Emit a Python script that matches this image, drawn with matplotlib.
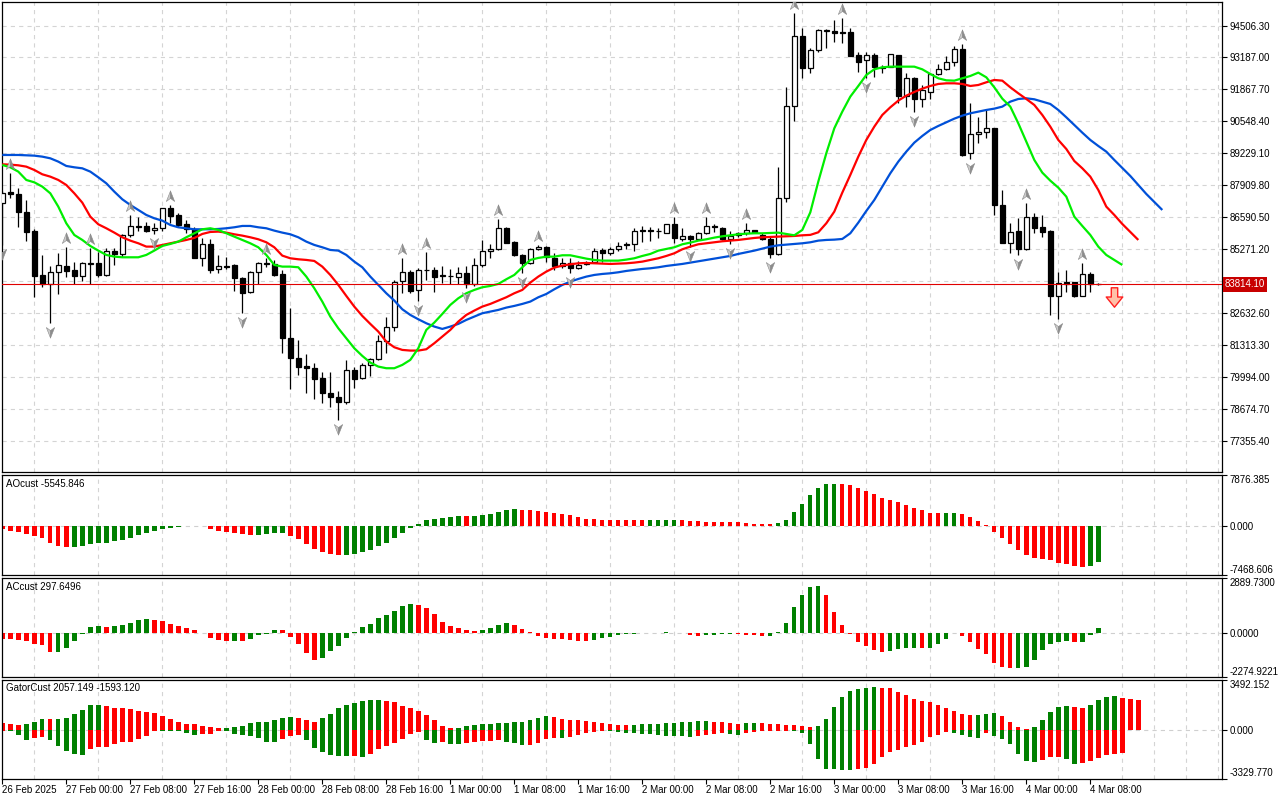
import matplotlib
matplotlib.use("Agg")
import matplotlib.pyplot as plt
import numpy as np
from matplotlib.path import Path
from matplotlib import transforms

plt.rcParams['font.family'] = ['Liberation Sans', 'DejaVu Sans']
plt.rcParams['font.size'] = 7
plt.rcParams['lines.scale_dashes'] = False

# ---------------- data ----------------
time_labels = ["26 Feb 2025", "27 Feb 00:00", "27 Feb 08:00", "27 Feb 16:00", "28 Feb 00:00",
               "28 Feb 08:00", "28 Feb 16:00", "1 Mar 00:00", "1 Mar 08:00", "1 Mar 16:00",
               "2 Mar 00:00", "2 Mar 08:00", "2 Mar 16:00", "3 Mar 00:00", "3 Mar 08:00",
               "3 Mar 16:00", "4 Mar 00:00", "4 Mar 08:00"]

opens = [87178, 87619, 87550, 86793, 86036, 84206, 83821, 84344, 84578, 84413,
         84179, 84674, 84702, 84206, 85183, 85073, 85857, 86215, 86229, 86050,
         86133, 86958, 86683, 86312, 86091, 84922, 85472, 84440, 84591, 84619,
         84096, 83491, 84344, 84688, 84660, 84247, 81592, 80766, 80450, 80354,
         79941, 79321, 79156, 78950, 80285, 79941, 80491, 80725, 81468, 82046,
         83945, 84316, 83587, 84399, 84413, 84193, 84179, 84110, 84275, 83821,
         84605, 85197, 85266, 86133, 85555, 85032, 84688, 85280, 85348, 84894,
         84591, 84687, 84481, 84646, 84756, 85238, 85100, 85265, 85499, 85472,
         86064, 86050, 86036, 85953, 86298, 85706, 85816, 85678, 85926, 86215,
         86160, 85678, 85857, 85926, 86064, 85843, 85692, 85059, 87371, 91183,
         94074, 92766, 93496, 94280, 94266, 94225, 94225, 93289, 93083, 93289,
         92739, 92807, 93289, 91610, 92326, 91459, 91775, 92505, 92697, 93014,
         93523, 89257, 90027, 90096, 90261, 87096, 85541, 86022, 85279, 86587,
         86174, 86022, 83352, 83903, 83903, 83352, 84233, 83820]
highs = [87660, 88400, 87784, 87302, 86100, 85032, 84578, 85101, 85376, 84757,
         84757, 85307, 85170, 85307, 85307, 85899, 86683, 86587, 86408, 86339,
         86985, 87082, 86752, 86477, 86174, 85747, 85692, 85032, 84963, 84650,
         84137, 84372, 84757, 84894, 84826, 84413, 82830, 81523, 80945, 80588,
         80216, 80216, 79432, 80698, 80422, 80588, 80766, 81730, 82486, 84000,
         84894, 84413, 84481, 85170, 84550, 84578, 84440, 84522, 84578, 84894,
         85651, 85486, 86504, 86202, 85610, 85073, 85307, 85445, 85403, 85100,
         84921, 84921, 84784, 84797, 85307, 85334, 85348, 85554, 85554, 86132,
         86229, 86201, 86160, 86325, 86614, 86160, 85857, 85967, 86614, 86298,
         86201, 86036, 85995, 86366, 86080, 85926, 85788, 88679, 91954, 95010,
         94390, 93564, 94376, 94376, 94734, 94803, 94390, 93427, 93427, 93358,
         92876, 93340, 93300, 92532, 92367, 92050, 92532, 92904, 93248, 93661,
         93740, 91293, 90716, 91018, 90290, 87715, 86366, 86545, 87165, 86752,
         86683, 86064, 84343, 84412, 83930, 84687, 84343, 83861]
lows = [85450, 87371, 86201, 85623, 83312, 83697, 82211, 83408, 84137, 83835,
        83972, 83835, 84137, 84180, 84619, 84963, 85789, 86036, 85995, 85899,
        86036, 86339, 86174, 85926, 84900, 84578, 84303, 84303, 84440, 83560,
        82651, 83470, 83835, 84523, 84180, 80973, 79487, 80078, 79321, 79074,
        78909, 78771, 78221, 78868, 79528, 79900, 80037, 80698, 80999, 81908,
        83449, 83449, 83147, 84000, 83518, 83862, 83835, 83821, 83656, 83752,
        84550, 84894, 85238, 85514, 84991, 84275, 84660, 85238, 84757, 84412,
        84508, 84274, 84440, 84605, 84687, 84756, 85031, 85210, 85265, 85210,
        85582, 85610, 85747, 85926, 85540, 85623, 85375, 85650, 85885, 85995,
        85651, 85486, 85788, 85857, 85926, 85640, 84894, 85031, 87233, 90578,
        92326, 92560, 93427, 93564, 93840, 93798, 93250, 92601, 92326, 92394,
        92532, 92790, 91293, 91156, 90950, 91156, 91459, 92463, 92670, 92835,
        89119, 88981, 89642, 89848, 86683, 85513, 85128, 85031, 85250, 85926,
        85788, 82554, 82375, 83517, 83311, 83320, 83517, 83793]
closes = [87591, 87536, 86793, 85995, 84179, 83821, 84344, 84605, 84385, 84179,
          84688, 84702, 84206, 85197, 85073, 85857, 86215, 86190, 86036, 86146,
          86958, 86656, 86270, 86091, 84922, 85472, 84413, 84564, 84550, 84069,
          83477, 84344, 84688, 84660, 84206, 81619, 80766, 80395, 80354, 79913,
          79321, 79156, 78950, 80285, 79913, 80491, 80725, 81468, 82046, 83931,
          84316, 83560, 84413, 84413, 84137, 84165, 84151, 84275, 83821, 84605,
          85197, 85266, 86133, 85541, 85032, 84688, 85266, 85348, 84930, 84591,
          84687, 84481, 84618, 84715, 85210, 85128, 85265, 85417, 85458, 86022,
          86036, 86022, 86008, 86298, 85720, 85816, 85706, 85926, 86229, 86187,
          85678, 85816, 85926, 86064, 85967, 85678, 85059, 87371, 91183, 94074,
          92739, 93496, 94321, 94321, 94184, 94184, 93262, 93014, 93289, 92807,
          92807, 93317, 91610, 92326, 91459, 91844, 92505, 92697, 93014, 93523,
          89160, 90013, 90096, 90261, 87096, 85541, 85995, 85279, 86587, 86160,
          85995, 83352, 83861, 83834, 83352, 84233, 83820, 83814.1]

jaw = [89160, 89160, 89160, 89146, 89132, 89091, 89022, 88885, 88706, 88651,
       88609, 88472, 88238, 87990, 87646, 87330, 87096, 86889, 86683, 86545,
       86449, 86270, 86174, 86133, 86091, 86091, 86091, 86105, 86133, 86174,
       86229, 86229, 86174, 86133, 86036,
       85954, 85885, 85761, 85582, 85445, 85348, 85238, 85211, 85032, 84757,
       84523, 84138, 83794, 83450, 83147, 82789, 82555, 82376, 82211, 82074,
       81977, 82074, 82184, 82349, 82486, 82624, 82693, 82762, 82858, 82927,
       83009, 83106, 83284, 83420,
       83614, 83793, 83930, 84040, 84137, 84206, 84247, 84274, 84316, 84371,
       84412, 84453, 84481, 84522, 84577, 84618, 84660, 84715, 84770, 84825,
       84880, 84935, 84990, 85073, 85141, 85210, 85293, 85375, 85430, 85458,
       85485, 85513, 85554, 85623,
       85651, 85664, 85692, 85926, 86366, 86848, 87302, 87853, 88403, 88885,
       89298, 89669, 89945, 90192, 90358, 90509, 90660, 90784, 90881, 90949,
       91018, 91073, 91156, 91362, 91472, 91500, 91459, 91362, 91266, 91018,
       90715, 90399, 90082, 89780, 89532, 89298, 88954, 88623, 88293, 87921,
       87550, 87220, 86889]
teeth = [88775, 88761, 88733, 88678, 88541, 88362, 88265, 88128, 87921, 87577,
         87192, 86614, 86298, 86133, 85954, 85761, 85623, 85513, 85376, 85376,
         85445, 85513, 85582, 85651, 85734, 85899, 85981, 85995, 85954, 85885,
         85830, 85761, 85679, 85555, 85348,
         85004, 84894, 84853, 84826, 84784, 84550, 84206, 83794, 83340, 82899,
         82514, 82184, 81867, 81454, 81220, 81110, 81083, 81083, 81138, 81386,
         81661, 81936, 82280, 82555, 82734, 82899, 83009, 83147, 83284, 83450,
         83587, 83890, 84138, 84344,
         84508, 84591, 84646, 84687, 84701, 84687, 84673, 84660, 84673, 84687,
         84715, 84756, 84825, 84894, 84990, 85100, 85265, 85375, 85472, 85513,
         85554, 85596, 85623, 85651, 85692, 85733, 85761, 85774, 85788, 85802,
         85816, 85843, 85860, 85967,
         86339, 86820, 87605, 88334, 89091, 89780, 90330, 90812, 91128, 91404,
         91610, 91761, 91899, 92009, 92092, 92119, 92119, 92092, 92009, 92050,
         92161, 92257, 92229, 91954, 91706, 91472, 91225, 90812, 90330, 89780,
         89408, 88912, 88610, 88266, 87715, 87027, 86683, 86311, 85981, 85651]
lips = [88747, 88651, 88472, 88128, 88031, 87853, 87577, 87027, 86339, 85857,
        85651, 85403, 85211, 85032, 84963, 84935, 84935, 84935, 85032, 85211,
        85403, 85486, 85582, 85761, 85926, 86091, 86133, 86064, 85926, 85789,
        85651, 85513, 85348, 85032, 84619,
        84550, 84550, 84523, 84138, 83656, 83106, 82486, 82005, 81592, 81179,
        80863, 80588, 80422, 80354, 80354, 80491, 80698, 81179, 81936, 82239,
        82596, 82968, 83243, 83450, 83587, 83697, 83752, 83835, 84028, 84206,
        84523, 84826, 84908, 84960,
        84962, 85018, 85018, 84949, 84880, 84825, 84797, 84797, 84797, 84839,
        84894, 84990, 85073, 85210, 85279, 85348, 85472, 85541, 85623, 85678,
        85747, 85802, 85843, 85885, 85912, 85926, 85926, 85940, 85953, 85898,
        85843, 86064, 86790, 88060,
        89229, 90261, 90949, 91569, 92009, 92463, 92697, 92780, 92807, 92807,
        92807, 92807, 92697, 92505, 92326, 92243, 92229, 92326, 92422, 92560,
        92367, 91954, 91486, 91156, 90468, 89711, 88954, 88431, 88100, 87811,
        87440, 86614, 86229, 85857, 85375, 85031, 84825, 84618]

fractal_up = [1, 8, 11, 16, 21, 33, 50, 53, 62, 67, 84, 88, 93, 99, 105, 120, 128, 135]
fractal_down = [0, 6, 19, 30, 42, 52, 58, 65, 71, 86, 91, 96, 108, 114, 121, 127, 132]

last_price = 83814.10
sell_signal_bar = 139
sell_signal_price = 83300

price_levels = [94506.30, 93187.00, 91867.70, 90548.40, 89229.10, 87909.80, 86590.50,
                85271.20, 83951.90, 82632.60, 81313.30, 79994.00, 78674.70, 77355.40]

ao = [-411, -771, -925, -1182, -1542, -1799, -2570, -2981, -3238, -3187,
      -3084, -2776, -2621, -2570, -2313, -2107, -1799, -1336, -1079, -771,
      -411, -257, -103, 51, 103, 51, -411, -771, -925, -1079,
      -1234, -1388, -1336, -1182, -1079, -1060, -1542, -1953, -2724, -3495,
      -4009, -4266, -4420, -4395, -4266, -4009, -3649, -3084, -2621, -1799,
      -1079, -257, 360, 977, 1079, 1234, 1388, 1542, 1516, 1542,
      1696, 1850, 2159, 2467, 2621, 2467, 2442, 2313, 2159, 2005,
      1850, 1696, 1388, 1079, 1070, 925, 920, 915, 910, 905,
      900, 905, 910, 915, 920, 900, 771, 761, 617, 612,
      607, 602, 596, 463, 308, 303, 298, 463, 925, 2159,
      3392, 4780, 5860, 6476, 6528, 6476, 6322, 5860, 5397, 4934,
      4318, 4009, 3701, 3238, 2776, 2467, 2005, 1990, 2000, 2010,
      1850, 1388, 771, 154, -925, -1850, -2776, -3701, -4472, -4934,
      -5089, -5243, -5551, -5705, -6014, -6168, -6014, -5545.846]
ac = [-281, -290, -334, -387, -562, -597, -984, -966, -756, -404,
      -18, 334, 387, 334, 387, 439, 545, 703, 756, 720,
      650, 492, 369, 281, 176, 35, -228, -334, -387, -378,
      -387, -281, -105, -35, 176, 158, -176, -562, -1037, -1388,
      -1283, -914, -633, -228, 53, 334, 492, 808, 966, 1177,
      1441, 1546, 1493, 1335, 1019, 597, 387, 281, 176, 123,
      176, 281, 439, 545, 439, 228, 70, -123, -246, -281,
      -290, -334, -404, -413, -334, -228, -176, -70, -35, -18,
      5, 18, 26, 53, 44, 9, -70, -123, -105, -70,
      -53, -18, -35, -70, -105, -123, -119, 53, 545, 1388,
      2021, 2442, 2495, 2021, 1124, 439, -35, -457, -668, -879,
      -984, -931, -826, -773, -764, -773, -770, -562, -299, 35,
      -123, -457, -826, -1089, -1564, -1775, -1827, -1824, -1775, -1406,
      -879, -562, -457, -404, -457, -453, -88, 297.6496]
gator_up = [464, 418, 325, 418, 580, 766, 760, 777, 858, 1114,
            1415, 1740, 1752, 1694, 1554, 1543, 1462, 1346, 1276, 1206,
            998, 766, 580, 418, 406, 302, 232, 162, 174, 232,
            302, 464, 534, 580, 696, 858, 928, 858, 696, 580,
            812, 1137, 1554, 1763, 1902, 2042, 2053, 2111, 2042, 1972,
            1694, 1554, 1346, 1067, 719, 302, 116, 162, 302, 371,
            441, 452, 510, 522, 534, 580, 719, 858, 998, 928,
            789, 719, 708, 650, 580, 510, 441, 371, 360, 371,
            441, 448, 455, 510, 517, 580, 587, 650, 657, 580,
            573, 510, 441, 510, 517, 510, 441, 394, 371, 348,
            302, 209, 302, 789, 1624, 2320, 2668, 2807, 2877, 2946,
            2935, 2877, 2598, 2390, 2181, 2042, 1972, 1763, 1554, 1346,
            1137, 1067, 1074, 1137, 1206, 998, 580, 232, 93, 232,
            719, 1276, 1624, 1694, 1624, 1554, 1763, 2111, 2320, 2327,
            2250, 2181, 2057.149]
gator_down = [-60, -70, -348, -696, -534, -464, -696, -1090, -1462, -1647,
              -1694, -1276, -1160, -1155, -928, -812, -800, -580, -394, -70,
              -75, -80, -85, -162, -302, -290, -232, -46, -70, -232,
              -348, -394, -534, -789, -812, -580, -394, -302, -650, -1230,
              -1508, -1694, -1763, -1786, -1775, -1856, -1647, -1299, -1090, -882,
              -603, -255, -139, -673, -858, -812, -951, -963, -882, -812,
              -742, -731, -673, -812, -858, -1021, -1009, -882, -603, -534,
              -538, -464, -325, -186, -116, -70, -74, -116, -186, -190,
              -255, -260, -325, -394, -399, -404, -464, -394, -325, -255,
              -186, -255, -325, -186, -116, -70, -65, -46, -23, -35,
              -162, -928, -2018, -2668, -2675, -2714, -2738, -2668, -2598, -2320,
              -1856, -1508, -1369, -1160, -1021, -812, -464, -325, -116, -186,
              -325, -464, -534, -162, -394, -603, -951, -1647, -2111, -2204,
              -2065, -1856, -1844, -1995, -2343, -2274, -2134, -1926, -1717, -1647,
              -1593.120]

ao_range = (-7468.606, 7876.385)
ac_range = (-2274.9221, 2889.7300)
gator_range = (-3329.770, 3492.152)

# ---------------- figure ----------------
W, H = 1280, 800
fig = plt.figure(figsize=(W / 100, H / 100), dpi=100)
fig.patch.set_facecolor('white')


def add_panel(top, bottom):
    return fig.add_axes([2 / W, 1 - bottom / H, 1220 / W, (bottom - top) / H])


ax = add_panel(2, 472)
ax_ao = add_panel(475, 575)
ax_ac = add_panel(578, 677)
ax_g = add_panel(679.5, 778.5)
axes = [ax, ax_ao, ax_ac, ax_g]

GRID = '#D4D4D4'
GREEN = '#008000'
RED = '#FF0000'
FS = 7
XLIM = (-0.0375, 152.4625)
major_x = np.arange(0, 8 * len(time_labels), 8)
minor_x = np.arange(4, 153, 4)

for a in axes:
    a.set_xlim(*XLIM)
    for s in a.spines.values():
        s.set_linewidth(0.9)
        s.set_color('black')
    a.set_xticks(major_x)
    a.set_xticks(minor_x, minor=True)
    a.grid(which='minor', axis='x', color=GRID, linestyle=(0, (3, 3)), linewidth=0.8)
    a.tick_params(axis='x', which='minor', length=0)
    a.yaxis.tick_right()
    a.tick_params(axis='y', which='major', length=3.5, width=0.8, pad=2,
                  labelsize=FS, direction='out', right=True, left=False)
    a.set_axisbelow(True)
    if a is not ax_g:
        a.tick_params(axis='x', which='major', bottom=False, labelbottom=False)

# ---------------- main price panel ----------------
n = min(len(opens), len(highs), len(lows), len(closes))
o = np.array(opens[:n], float)
h = np.array(highs[:n], float)
l = np.array(lows[:n], float)
c = np.array(closes[:n], float)
xb = np.arange(n)


def y_at(py):
    return 94506.3 + (25.5 - py) * 41.293


ax.set_ylim(y_at(472), y_at(2))
ax.set_yticks(price_levels)
# the level hidden behind the current-price box gets no visible text
ax.set_yticklabels(["" if abs(v - last_price) < 400 else f"{v:.2f}" for v in price_levels])
ax.grid(which='major', axis='y', color=GRID, linestyle=(0, (3, 3)), linewidth=0.8)

ax.vlines(xb, l, h, color='black', linewidth=0.9, zorder=2)
body_lo = np.minimum(o, c)
body_h = np.maximum(np.abs(c - o), 1.0)
ax.bar(xb, body_h, bottom=body_lo, width=0.62,
       color=np.where(c >= o, 'white', 'black'), edgecolor='black',
       linewidth=0.9, zorder=3)

ax.plot(np.arange(len(jaw)), jaw, color='#0050D8', linewidth=1.6, zorder=4,
        solid_capstyle='butt')
ax.plot(np.arange(len(teeth)), teeth, color='#FF0000', linewidth=1.6, zorder=4,
        solid_capstyle='butt')
ax.plot(np.arange(len(lips)), lips, color='#00EE00', linewidth=1.6, zorder=4,
        solid_capstyle='butt')

ax.axhline(last_price, color='#E00000', linewidth=0.8, zorder=5)

# fractal arrows
left_up = Path([(0, 1), (0, -0.35), (-0.75, -0.9), (0, 1)],
               [Path.MOVETO, Path.LINETO, Path.LINETO, Path.CLOSEPOLY])
right_up = Path([(0, 1), (0.75, -0.9), (0, -0.35), (0, 1)],
                [Path.MOVETO, Path.LINETO, Path.LINETO, Path.CLOSEPOLY])
left_dn = Path([(0, -1), (0, 0.35), (-0.75, 0.9), (0, -1)],
               [Path.MOVETO, Path.LINETO, Path.LINETO, Path.CLOSEPOLY])
right_dn = Path([(0, -1), (0.75, 0.9), (0, 0.35), (0, -1)],
                [Path.MOVETO, Path.LINETO, Path.LINETO, Path.CLOSEPOLY])
t_up = transforms.offset_copy(ax.transData, fig=fig, x=0, y=9, units='dots')
t_dn = transforms.offset_copy(ax.transData, fig=fig, x=0, y=-9, units='dots')
fu = [i for i in fractal_up if i < n]
fd = [i for i in fractal_down if i < n]
for mk, col in ((left_up, '#CBCBCB'), (right_up, '#8C8C8C')):
    ax.plot(fu, h[fu], linestyle='none', marker=mk, markersize=8,
            markerfacecolor=col, markeredgecolor='#8A8A8A', markeredgewidth=0.4,
            transform=t_up, zorder=6, clip_on=True)
for mk, col in ((left_dn, '#CBCBCB'), (right_dn, '#8C8C8C')):
    ax.plot(fd, l[fd], linestyle='none', marker=mk, markersize=8,
            markerfacecolor=col, markeredgecolor='#8A8A8A', markeredgewidth=0.4,
            transform=t_dn, zorder=6, clip_on=True)

# sell signal arrow
sell_path = Path([(-0.33, 1), (0.33, 1), (0.33, 0.05), (0.85, 0.05), (0, -1),
                  (-0.85, 0.05), (-0.33, 0.05), (-0.33, 1)],
                 [Path.MOVETO] + [Path.LINETO] * 6 + [Path.CLOSEPOLY])
ax.plot([sell_signal_bar], [sell_signal_price], linestyle='none', marker=sell_path,
        markersize=14, markerfacecolor='#FFC0A8', markeredgecolor='#FF2020',
        markeredgewidth=1.0, zorder=7)

# current price label
blend = transforms.blended_transform_factory(ax.transAxes, ax.transData)
ax.text(1.0 + 3 / 1220, last_price, f"{last_price:.2f}", transform=blend,
        ha='left', va='center', color='white', fontsize=FS, zorder=10,
        clip_on=False,
        bbox=dict(boxstyle='square,pad=0.22', facecolor='#C80000', edgecolor='none'))

# ---------------- oscillator panels ----------------
def colors_by_change(vals):
    a = np.abs(np.asarray(vals, float))
    out = [RED]
    for i in range(1, len(vals)):
        out.append(GREEN if a[i] > a[i - 1] else RED)
    return out


def colors_by_value(vals):
    v = np.asarray(vals, float)
    out = [RED]
    for i in range(1, len(v)):
        out.append(GREEN if v[i] > v[i - 1] else RED)
    return out


def setup_osc(a, rng, fmt, title):
    a.set_ylim(*rng)
    ticks = [rng[1], 0.0, rng[0]]
    a.set_yticks(ticks)
    labs = a.set_yticklabels([fmt.format(t) for t in ticks])
    labs[0].set_va('top')
    labs[2].set_va('bottom')
    a.axhline(0, color='#CFCFCF', linestyle=(0, (3, 3)), linewidth=0.8, zorder=1)
    a.text(4 / 1220, 1 - 9 / 100, title, transform=a.transAxes, ha='left',
           va='center', fontsize=FS, color='black')


setup_osc(ax_ao, ao_range, "{:.3f}", "AOcust -5545.846")
ax_ao.bar(np.arange(len(ao)), ao, width=0.55, color=colors_by_value(ao),
          linewidth=0, zorder=2)

setup_osc(ax_ac, ac_range, "{:.4f}", "ACcust 297.6496")
ax_ac.bar(np.arange(len(ac)), ac, width=0.55, color=colors_by_value(ac),
          linewidth=0, zorder=2)

setup_osc(ax_g, gator_range, "{:.3f}", "GatorCust 2057.149 -1593.120")
ax_g.bar(np.arange(len(gator_up)), gator_up, width=0.55,
         color=colors_by_change(gator_up), linewidth=0, zorder=2)
ax_g.bar(np.arange(len(gator_down)), gator_down, width=0.55,
         color=colors_by_change(gator_down), linewidth=0, zorder=2)

# time axis
ax_g.set_xticks(major_x)
ax_g.set_xticklabels(time_labels)
ax_g.tick_params(axis='x', which='major', length=3.5, width=0.8, pad=1.5,
                 direction='out', labelsize=FS)
for t in ax_g.get_xticklabels():
    t.set_ha('left')

fig.savefig("out.png", dpi=100, facecolor='white')
